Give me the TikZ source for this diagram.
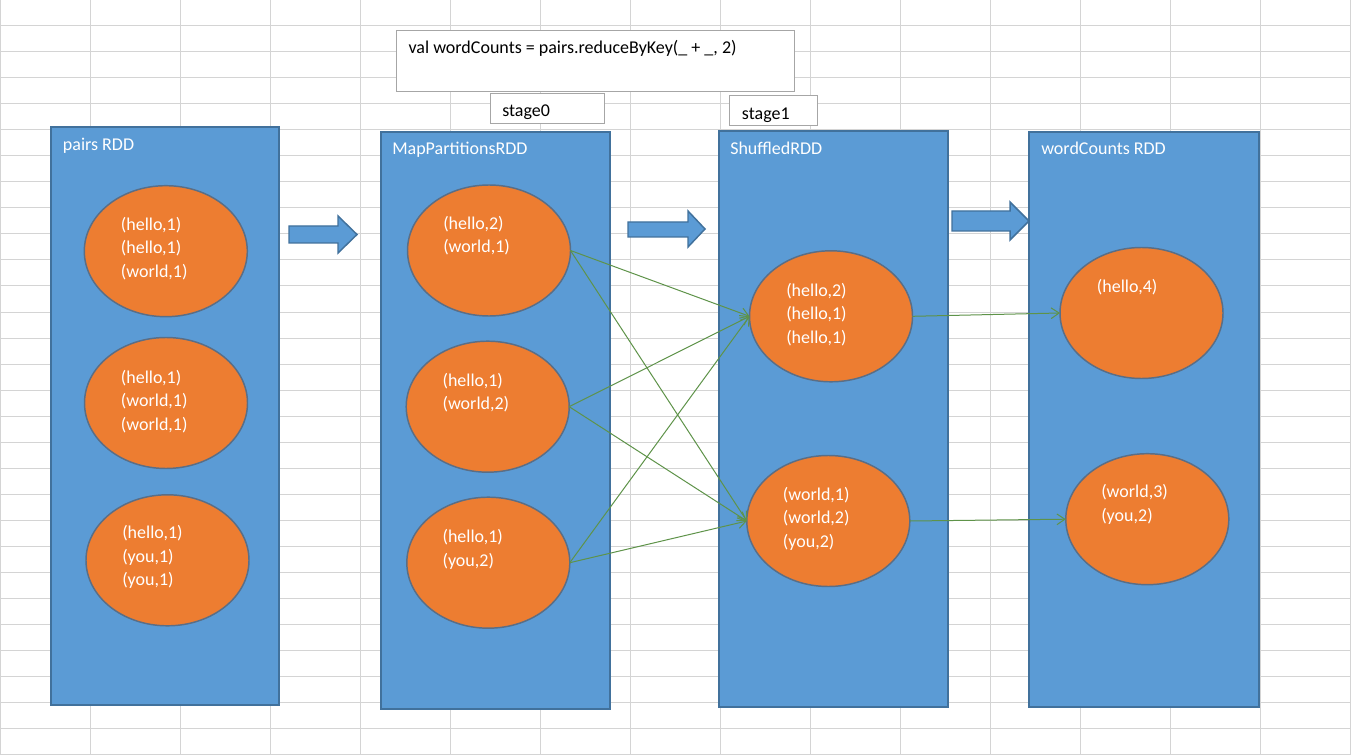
\documentclass[tikz,border=0pt]{standalone}
\usepackage{fontspec}
\setmainfont{Carlito}
\usetikzlibrary{arrows.meta,shapes.geometric}
\definecolor{rddfill}{HTML}{5B9BD5}
\definecolor{rddline}{HTML}{41719C}
\definecolor{partfill}{HTML}{ED7D31}
\definecolor{partline}{HTML}{5A6E86}
\definecolor{flow}{HTML}{5E9349}
\definecolor{gridc}{HTML}{D4D4D4}
\definecolor{boxline}{HTML}{A6A6A6}
\begin{document}
\begin{tikzpicture}[x=0.75pt,y=-0.75pt,
 rdd/.style={draw=rddline, fill=rddfill, line width=1.5pt, inner sep=0, outer sep=0, anchor=north west},
 part/.style={ellipse, draw=partline, fill=partfill, line width=1.1pt, minimum width=122.25pt, minimum height=98.25pt, inner sep=0, outer sep=0},
 ptxt/.style={text=white, anchor=base west, align=left, inner sep=0, font=\fontsize{13.5}{17.6}\selectfont},
 ttl/.style={text=white, anchor=base west, inner sep=0, font=\fontsize{13.5}{16}\selectfont},
 note/.style={draw=boxline, fill=white, line width=0.75pt, inner sep=0, outer sep=0, anchor=north west},
 ntxt/.style={text=black, anchor=base west, inner sep=0, font=\fontsize{13.5}{16}\selectfont},
 flowline/.style={draw=flow, line width=0.75pt, -{Straight Barb[length=6pt,width=8pt]}},
 blockarrow/.style={draw=rddline, fill=rddfill, line width=1.1pt, line join=miter}
]
\useasboundingbox (0,0) rectangle (1351,755);
\fill[white] (0,0) rectangle (1351,755);
\foreach \k in {0,...,29} \draw[gridc, line width=0.75pt] (0,26*\k) -- (1351,26*\k);
\foreach \k in {0,...,15} \draw[gridc, line width=0.75pt] (0.7+90*\k,0) -- (0.7+90*\k,755);

% code and stage labels
\node[note, minimum width=299pt, minimum height=45.25pt] (code) at (396,30.7) {};
\node[ntxt] (codetxt) at (408.3,53.3) {val wordCounts = pairs.reduceByKey(\_ + \_, 2)};
\node[note, minimum width=85.5pt, minimum height=22.2pt] (st0) at (490.3,93.7) {};
\node[ntxt] (st0txt) at (502,116.2) {stage0};
\node[note, minimum width=66.2pt, minimum height=22.5pt] (st1) at (729,95.3) {};
\node[ntxt] (st1txt) at (741.7,120) {stage1};

% RDD boxes
\node[rdd, minimum width=171.45pt, minimum height=433.7pt] (b1) at (50.7,126.7) {};
\node[rdd, minimum width=171.75pt, minimum height=432.75pt] (b2) at (381,132) {};
\node[rdd, minimum width=172pt, minimum height=432pt] (b3) at (719,131) {};
\node[rdd, minimum width=172.3pt, minimum height=431.5pt] (b4) at (1029,132) {};

\node[ttl] (b1t) at (62.7,151) {pairs RDD};
\node[ttl] (b2t) at (392,155) {MapPartitionsRDD};
\node[ttl] (b3t) at (730,154.3) {ShuffledRDD};
\node[ttl] (b4t) at (1041,155) {wordCounts RDD};

% partitions
\node[part] (e11) at (165.8,251.2) {};
\node[part] (e12) at (166,403) {};
\node[part] (e13) at (167.5,560.3) {};
\node[part] (e21) at (489,250.5) {};
\node[part] (e22) at (487.7,406.7) {};
\node[part] (e23) at (488.3,562.7) {};
\node[part] (e31) at (831,316.3) {};
\node[part] (e32) at (828.3,521) {};
\node[part] (e41) at (1141.5,313) {};
\node[part] (e42) at (1147.3,519.2) {};

% texts (anchor = baseline of the last line)
\node[ptxt] (t11) at (120.7,277) {(hello,1)\\(hello,1)\\(world,1)};
\node[ptxt] (t12) at (120.7,430) {(hello,1)\\(world,1)\\(world,1)};
\node[ptxt] (t13) at (122,585.7) {(hello,1)\\(you,1)\\(you,1)};
\node[ptxt] (t21) at (443,252.8) {(hello,2)\\(world,1)};
\node[ptxt] (t22) at (442.3,409.5) {(hello,1)\\(world,2)};
\node[ptxt] (t23) at (442.3,566.2) {(hello,1)\\(you,2)};
\node[ptxt] (t31) at (786,343) {(hello,2)\\(hello,1)\\(hello,1)};
\node[ptxt] (t32) at (782.7,547.3) {(world,1)\\(world,2)\\(you,2)};
\node[ptxt] (t41) at (1096.7,292) {(hello,4)};
\node[ptxt] (t42) at (1101,521.2) {(world,3)\\(you,2)};

% block arrows
\draw[blockarrow] (289,226) -- (338,226) -- (338,216) -- (357,234.5) -- (338,253) -- (338,243) -- (289,243) -- cycle;
\draw[blockarrow] (628,222) -- (688,222) -- (688,211) -- (705,229) -- (688,247) -- (688,237) -- (628,237) -- cycle;
\draw[blockarrow] (952,211) -- (1010,211) -- (1010,202) -- (1029,221) -- (1010,240) -- (1010,231) -- (952,231) -- cycle;

% shuffle connectors
\draw[flowline] (e21.east) -- (e31.west);
\draw[flowline] (e21.east) -- (e32.west);
\draw[flowline] (e22.east) -- (e31.west);
\draw[flowline] (e22.east) -- (e32.west);
\draw[flowline] (e23.east) -- (e31.west);
\draw[flowline] (e23.east) -- (e32.west);
\draw[flowline] (e31.east) -- (e41.west);
\draw[flowline] (e32.east) -- (e42.west);
\end{tikzpicture}
\end{document}
